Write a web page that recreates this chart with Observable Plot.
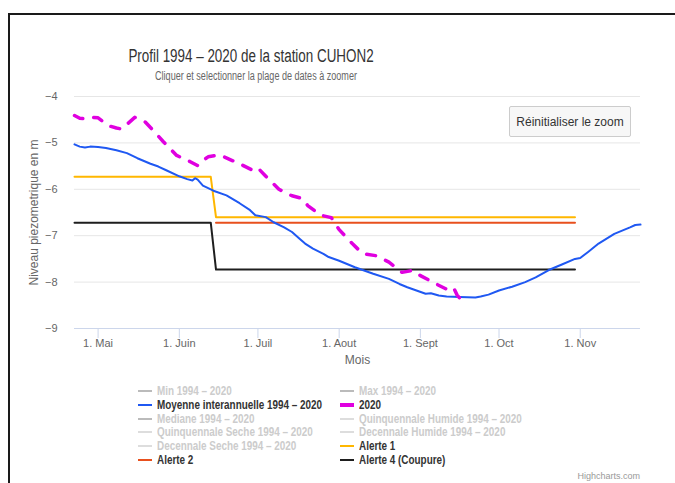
<!DOCTYPE html>
<html>
<head>
<meta charset="utf-8">
<script src="https://cdn.jsdelivr.net/npm/d3@7"></script>
<script src="https://cdn.jsdelivr.net/npm/@observablehq/plot@0.6"></script>
<style>
  html, body { margin: 0; padding: 0; background: #fff; }
  #wrap { position: relative; width: 675px; height: 483px; overflow: hidden; background: #fff; font-family: "Liberation Sans", Arial, sans-serif; }
  #frame { position: absolute; left: 8px; top: 13px; width: 700px; height: 500px; border-top: 2px solid #1a1a1a; border-left: 2px solid #1a1a1a; box-sizing: border-box; }
  #chart { position: absolute; left: 0; top: 0; }
  .title { position: absolute; white-space: nowrap; font-family: "Liberation Sans", Arial, sans-serif; line-height: 1; }
  #button { position: absolute; left: 509px; top: 106px; width: 122px; height: 31px; box-sizing: border-box; background: #f7f7f7; border: 1px solid #cccccc; border-radius: 2px; font-size: 12px; color: #333; display: flex; align-items: center; justify-content: center; }
  #legend { position: absolute; left: 0; top: 0; width: 675px; height: 483px; pointer-events: none; }
  .item { position: absolute; font-family: "Liberation Sans", Arial, sans-serif; font-weight: bold; font-size: 12px; white-space: nowrap; line-height: 14px; height: 14px; }
  .sym { position: absolute; top: 6px; width: 14px; height: 2px; }
  .lbl { position: absolute; left: 19px; top: 0; transform: scaleX(0.825); transform-origin: 0 50%; }
  #credits { position: absolute; right: 35px; top: 471px; font-size: 9px; color: #999; }
</style>
</head>
<body>
<div id="wrap">
  <div id="chart"></div>
  <div class="title" style="left:251px; top:47px; font-size:18px; color:#333; transform: translateX(-50%) scaleX(0.745);">Profil 1994 – 2020 de la station CUHON2</div>
  <div class="title" style="left:256px; top:70px; font-size:12px; color:#666; transform: translateX(-50%) scaleX(0.755);">Cliquer et selectionner la plage de dates à zoomer</div>
  <div id="button">Réinitialiser le zoom</div>
  <div id="legend"></div>
  <div id="credits">Highcharts.com</div>
  <div id="frame"></div>
</div>
<script>
// ---- Data ----
const moyDates = ["2020-04-22","2020-04-24","2020-04-26","2020-04-28","2020-05-01","2020-05-04","2020-05-08","2020-05-12","2020-05-16","2020-05-21","2020-05-24","2020-05-27","2020-06-01","2020-06-04","2020-06-06","2020-06-07","2020-06-08","2020-06-10","2020-06-14","2020-06-19","2020-06-24","2020-06-28","2020-06-30","2020-07-04","2020-07-07","2020-07-11","2020-07-14","2020-07-17","2020-07-19","2020-07-22","2020-07-26","2020-07-28","2020-08-01","2020-08-07","2020-08-14","2020-08-20","2020-08-24","2020-08-27","2020-09-03","2020-09-05","2020-09-08","2020-09-11","2020-09-16","2020-09-22","2020-09-24","2020-09-27","2020-10-01","2020-10-06","2020-10-11","2020-10-15","2020-10-20","2020-10-25","2020-10-30","2020-11-01","2020-11-04","2020-11-08","2020-11-14","2020-11-20","2020-11-22","2020-11-24"];
const moyValues = [-5.03,-5.08,-5.10,-5.08,-5.09,-5.11,-5.16,-5.22,-5.33,-5.45,-5.51,-5.59,-5.72,-5.78,-5.81,-5.76,-5.79,-5.92,-6.03,-6.13,-6.30,-6.45,-6.56,-6.60,-6.71,-6.82,-6.92,-7.07,-7.17,-7.28,-7.39,-7.46,-7.54,-7.68,-7.82,-7.93,-8.04,-8.11,-8.25,-8.24,-8.29,-8.31,-8.32,-8.33,-8.31,-8.27,-8.18,-8.10,-8.00,-7.90,-7.74,-7.62,-7.50,-7.48,-7.35,-7.17,-6.96,-6.82,-6.77,-6.76];

const y2020Dates = ["2020-04-22","2020-04-24","2020-04-26","2020-04-29","2020-05-01","2020-05-05","2020-05-08","2020-05-10","2020-05-12","2020-05-15","2020-05-19","2020-05-22","2020-05-26","2020-05-31","2020-06-05","2020-06-08","2020-06-10","2020-06-12","2020-06-16","2020-06-18","2020-06-24","2020-06-29","2020-07-01","2020-07-04","2020-07-09","2020-07-14","2020-07-18","2020-07-20","2020-07-25","2020-07-29","2020-08-01","2020-08-06","2020-08-10","2020-08-15","2020-08-20","2020-08-25","2020-08-29","2020-09-01","2020-09-07","2020-09-12","2020-09-13","2020-09-14","2020-09-15","2020-09-17"];
const y2020Values = [-4.41,-4.47,-4.48,-4.45,-4.46,-4.63,-4.68,-4.70,-4.60,-4.45,-4.55,-4.73,-4.98,-5.27,-5.40,-5.49,-5.38,-5.30,-5.26,-5.30,-5.45,-5.59,-5.54,-5.72,-6.00,-6.14,-6.20,-6.35,-6.56,-6.61,-6.87,-7.17,-7.39,-7.43,-7.57,-7.79,-7.75,-7.86,-8.04,-8.18,-8.13,-8.16,-8.28,-8.41];

const alerte1Dates = ["2020-04-22","2020-06-13","2020-06-15","2020-10-30"];
const alerte1Values = [-5.73,-5.73,-6.60,-6.60];
const alerte2Dates = ["2020-06-15","2020-10-30"];
const alerte2Values = [-6.72,-6.72];
const alerte4Dates = ["2020-04-22","2020-06-13","2020-06-15","2020-10-30"];
const alerte4Values = [-6.72,-6.72,-7.73,-7.73];

const xDomain = ["2020-04-22","2020-11-24"];
const yDomain = [-9, -4];
const yTicks = [-9,-8,-7,-6,-5,-4];
const monthTickDates = ["2020-05-01","2020-06-01","2020-07-01","2020-08-01","2020-09-01","2020-10-01","2020-11-01"];
const monthTickLabels = ["1. Mai","1. Juin","1. Juil","1. Aout","1. Sept","1. Oct","1. Nov"];

const legendItems = [
  {name: "Min 1994 – 2020", color: "#bbbbbb", active: false},
  {name: "Max 1994 – 2020", color: "#bbbbbb", active: false},
  {name: "Moyenne interannuelle 1994 – 2020", color: "#1f58f2", active: true},
  {name: "2020", color: "#e000e0", active: true, thick: true},
  {name: "Mediane 1994 – 2020", color: "#bbbbbb", active: false},
  {name: "Quinquennale Humide 1994 – 2020", color: "#dddddd", active: false},
  {name: "Quinquennale Seche 1994 – 2020", color: "#dddddd", active: false},
  {name: "Decennale Humide 1994 – 2020", color: "#dddddd", active: false},
  {name: "Decennale Seche 1994 – 2020", color: "#dddddd", active: false},
  {name: "Alerte 1", color: "#ffb700", active: true},
  {name: "Alerte 2", color: "#e8501e", active: true},
  {name: "Alerte 4 (Coupure)", color: "#1e1e1e", active: true}
];

// ---- Build tables ----
const parse = d3.utcParse("%Y-%m-%d");
const toRows = (dates, values) => dates.map((d, i) => ({date: parse(d), value: values[i]}));
const moy = toRows(moyDates, moyValues);
const y2020 = toRows(y2020Dates, y2020Values);
const a1 = toRows(alerte1Dates, alerte1Values);
const a2 = toRows(alerte2Dates, alerte2Values);
const a4 = toRows(alerte4Dates, alerte4Values);
const monthTicks = monthTickDates.map(parse);
const fmtInt = d3.format("d");

const chart = Plot.plot({
  width: 675,
  height: 370,
  marginTop: 96,
  marginBottom: 42,
  marginLeft: 74,
  marginRight: 35,
  style: {fontFamily: "'Liberation Sans', Arial, sans-serif", fontSize: "11px", color: "#666666", background: "transparent", overflow: "visible"},
  x: {type: "utc", domain: xDomain.map(parse)},
  y: {domain: yDomain},
  marks: [
    Plot.gridY(yTicks.filter(d => d > -9), {stroke: "#e6e6e6", strokeOpacity: 1, strokeWidth: 1}),
    Plot.ruleY([yDomain[0]], {stroke: "#ccd6eb", strokeWidth: 1}),
    Plot.axisY({ticks: yTicks, tickSize: 0, tickPadding: 17, label: null, fontSize: 11, tickFormat: fmtInt}),
    Plot.axisX({ticks: monthTicks, tickSize: 10, tickPadding: 1, stroke: "#ccd6eb", strokeOpacity: 1,
      tickFormat: d => monthTickLabels[monthTicks.findIndex(t => +t === +d)], label: null, fontSize: 11}),
    Plot.text(["Niveau piezometrique en m"], {frameAnchor: "left", textAnchor: "middle", lineAnchor: "middle", rotate: -90, dx: -40, fontSize: 12, fill: "#666666"}),
    Plot.text(["Mois"], {frameAnchor: "bottom", textAnchor: "middle", lineAnchor: "middle", dy: 32, fontSize: 12, fill: "#666666"}),
    Plot.line(a1, {x: "date", y: "value", stroke: "#ffb700", strokeWidth: 2}),
    Plot.line(a2, {x: "date", y: "value", stroke: "#e8501e", strokeWidth: 2}),
    Plot.line(a4, {x: "date", y: "value", stroke: "#1e1e1e", strokeWidth: 2}),
    Plot.line(moy, {x: "date", y: "value", stroke: "#1f58f2", strokeWidth: 2}),
    Plot.line(y2020, {x: "date", y: "value", stroke: "#e000e0", strokeWidth: 3.5, strokeDasharray: "9,11", strokeLinecap: "round"})
  ]
});
document.getElementById("chart").appendChild(chart);

// ---- Legend ----
const legend = document.getElementById("legend");
const colX = [138, 340];
const rowY = [384, 398, 412, 425, 439, 453];
legendItems.forEach((it, i) => {
  const el = document.createElement("div");
  el.className = "item";
  el.style.left = colX[i % 2] + "px";
  el.style.top = rowY[Math.floor(i / 2)] + "px";
  const s = document.createElement("div");
  s.className = "sym";
  s.style.background = it.color;
  if (it.thick) { s.style.height = "4px"; s.style.top = "5px"; }
  const l = document.createElement("div");
  l.className = "lbl";
  l.textContent = it.name;
  l.style.color = it.active ? "#333333" : "#cccccc";
  el.appendChild(s); el.appendChild(l);
  legend.appendChild(el);
});
</script>
</body>
</html>
